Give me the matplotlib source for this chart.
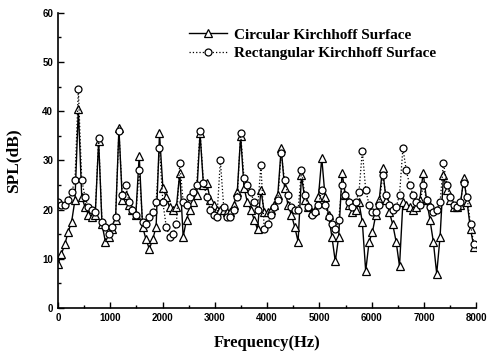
import numpy as np
import matplotlib
matplotlib.use("Agg")
import matplotlib.pyplot as plt
from matplotlib.ticker import MultipleLocator

# sample spacing: about 6 samples per harmonic (harmonics every ~388 Hz)
df = 388.0 / 6
n_points = 124
freq = np.arange(n_points) * df

# SPL, one row per harmonic block
circular_spl = [
    9, 11, 13, 15.5, 17.5, 22,
    40.5, 22.5, 20.5, 19, 18.5, 19,
    34, 17, 13.5, 14.5, 16, 18,
    36.5, 22, 23, 21, 20, 19,
    31, 16.5, 14, 12, 14, 16.5,
    35.5, 24.5, 22.5, 20.5, 20, 20.5,
    27.5, 14.5, 18, 20, 21.5, 23,
    35.5, 25, 25.5, 22, 21, 20,
    20, 20, 19.5, 19.5, 21, 23.5,
    35, 24.5, 21.5, 20, 18, 16,
    24, 19.5, 19.5, 20, 21, 23,
    32.5, 24.5, 21, 19, 16.5, 13.5,
    27, 22, 20.5, 19.5, 20, 22.5,
    30.5, 22.5, 19, 14.5, 9.5, 14.5,
    27.5, 23, 21, 19.5, 20, 21.5,
    17.5, 7.5, 13.5, 15.5, 19, 22,
    28.5, 22, 19.5, 17, 13.5, 8.5,
    21.5, 21, 20.5, 20, 20.5, 22,
    27.5, 22, 18, 13.5, 7, 14.5,
    27, 24, 22, 20.5, 20.5, 21,
    26.5, 21.5, 16, 12.5,
]

rectangular_spl = [
    21.5, 21, 21, 22, 23.5, 26,
    44.5, 26, 22.5, 20.5, 20, 19.5,
    34.5, 17.5, 16.5, 15, 16.5, 18.5,
    36, 23, 25, 21.5, 20, 19,
    28, 17.5, 17, 18.5, 19.5, 21.5,
    32.5, 21.5, 16.5, 14.5, 15, 17,
    29.5, 21.5, 21, 22.5, 23.5, 25,
    36, 25.5, 22.5, 20, 19, 18.5,
    30, 20.5, 18.5, 18.5, 20, 22.5,
    35.5, 26.5, 25, 23.5, 21.5, 20,
    29, 16, 17, 19, 20.5, 22,
    31.5, 26, 23, 20.5, 20, 20,
    28, 23, 20.5, 19, 19.5, 21,
    24, 21, 18.5, 17, 16, 18,
    25, 23, 21.5, 20.5, 21.5, 23.5,
    32, 24, 21, 19.5, 19.5, 21,
    27, 23, 21, 20, 20.5, 23,
    32.5, 28, 25, 23, 21.5, 21,
    25, 22, 20.5, 19.5, 20, 21.5,
    29.5, 25, 22.5, 21, 20.5, 21.5,
    25.5, 22.5, 17, 13,
]

x_ticks = [0, 1000, 2000, 3000, 4000, 5000, 6000, 7000, 8000]
y_ticks = [0, 10, 20, 30, 40, 50, 60]

fig = plt.figure(figsize=(4.88, 3.57), dpi=100)
ax = fig.add_axes([0.119, 0.137, 0.857, 0.827])

ax.plot(freq, circular_spl, color="black", lw=1.0, marker="^", ms=5.5,
        mfc="white", mec="black", mew=0.9, label="Circular Kirchhoff Surface")
ax.plot(freq, rectangular_spl, color="black", lw=0.9, ls=":", marker="o", ms=5,
        mfc="white", mec="black", mew=0.9, label="Rectangular Kirchhoff Surface")

ax.set_xlim(0, 8000)
ax.set_ylim(0, 60)
ax.set_xticks(x_ticks)
ax.set_yticks(y_ticks)
ax.xaxis.set_minor_locator(MultipleLocator(500))
ax.yaxis.set_minor_locator(MultipleLocator(5))
ax.tick_params(which="both", direction="in", labelsize=7, width=1)
ax.tick_params(which="major", length=4)
ax.tick_params(which="minor", length=2)
for lab in ax.get_xticklabels() + ax.get_yticklabels():
    lab.set_fontfamily("Liberation Sans")
    lab.set_fontweight("bold")

ax.spines["top"].set_visible(False)
ax.spines["right"].set_visible(False)
ax.spines["left"].set_linewidth(1.2)
ax.spines["bottom"].set_linewidth(1.2)

ax.set_xlabel("Frequency(Hz)", family="Liberation Serif", fontweight="bold",
              fontsize=12, labelpad=9)
ax.set_ylabel("SPL(dB)", family="Liberation Serif", fontweight="bold",
              fontsize=12.5, labelpad=15)

ax.legend(loc="upper left", bbox_to_anchor=(0.28, 0.995), frameon=False,
          prop={"family": "Liberation Serif", "weight": "bold", "size": 11},
          handlelength=2.5, labelspacing=0.3, handletextpad=0.45)

fig.savefig("out.png", dpi=100)
